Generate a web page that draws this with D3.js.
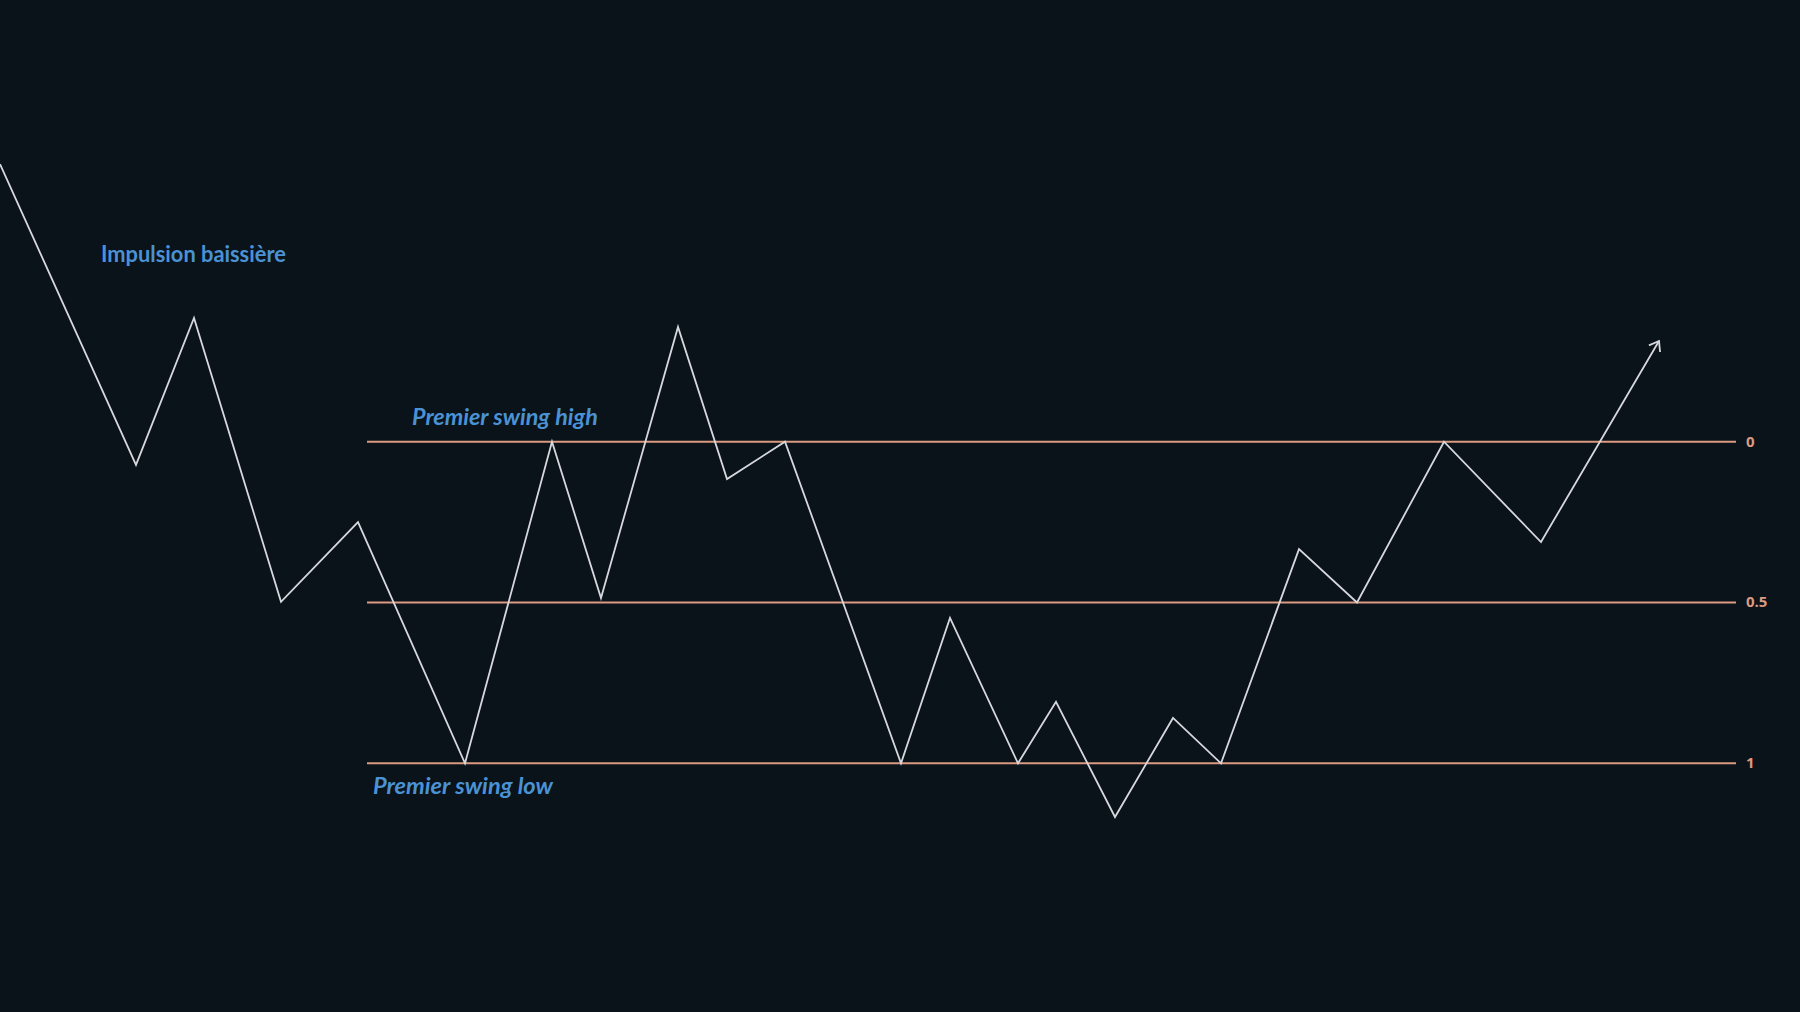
<!DOCTYPE html>
<html>
<head>
<meta charset="utf-8">
<script src="https://cdn.jsdelivr.net/npm/d3@7"></script>
<style>
  html, body { margin: 0; padding: 0; background: #0a121a; overflow: hidden; }
  svg { display: block; }
</style>
</head>
<body>
<svg id="chart" width="1800" height="1012"></svg>
<script>
// ---- Data ----
// Zigzag price path: bar position and price (swing low = 0, swing high = 100)
const bars   = [0, 136, 194, 281, 358, 465, 552, 601, 678, 727, 785, 901, 950, 1018, 1056, 1115, 1173, 1221, 1299, 1357, 1444, 1541, 1659];
const prices = [186.3, 92.8, 138.5, 50.2, 75.0, 0, 100, 51.4, 135.7, 88.4, 100, 0, 45.2, 0, 19.1, -16.7, 14.1, 0, 66.6, 50.0, 100, 68.8, 131.3];

// Fibonacci levels
const fibLevels = [0, 0.5, 1];
const fibLabels = ["0", "0.5", "1"];
const swingHigh = 100;
const swingLow = 0;
const fibStartBar = 367;
const fibEndBar = 1736;

// Annotations
const annotations = [
  { text: "Impulsion baissière", bar: 101, price: 156.0, italic: false, width: 185 },
  { text: "Premier swing high", bar: 412, price: 105.2, italic: true, width: 186 },
  { text: "Premier swing low", bar: 373, price: -9.7, italic: true, width: 180 }
];

// ---- Drawing ----
const svg = d3.select("#chart");
const W = 1800, H = 1012;

svg.append("rect").attr("width", W).attr("height", H).attr("fill", "#0a121a");

const x = d3.scaleLinear().domain([0, 1800]).range([0, 1800]);
const y = d3.scaleLinear().domain([swingLow, swingHigh]).range([763.3, 441.7]);

const fibColor = "#dc9a80";
const textBlue = "#4a92d4";

// Fib lines
const fibG = svg.append("g");
fibLevels.forEach((lv, i) => {
  const price = swingHigh - lv * (swingHigh - swingLow);
  fibG.append("line")
    .attr("x1", x(fibStartBar)).attr("x2", x(fibEndBar))
    .attr("y1", y(price)).attr("y2", y(price))
    .attr("stroke", fibColor).attr("stroke-width", 2);
  fibG.append("text")
    .attr("x", x(fibEndBar) + 10)
    .attr("y", y(price))
    .attr("dy", "0.33em")
    .attr("fill", fibColor)
    .attr("font-family", "'Open Sans', 'DejaVu Sans', sans-serif")
    .attr("font-weight", "bold")
    .attr("font-size", 15)
    .text(fibLabels[i]);
});

// Zigzag path
const pts = bars.map((b, i) => [b, prices[i]]);
const line = d3.line().x(d => x(d[0])).y(d => y(d[1]));
svg.append("path")
  .datum(pts)
  .attr("d", line)
  .attr("fill", "none")
  .attr("stroke", "#d6d8de")
  .attr("stroke-width", 1.8)
  .attr("stroke-linejoin", "miter");

// Arrow head at end
const p1 = pts[pts.length - 2], p2 = pts[pts.length - 1];
const ex = x(p2[0]), ey = y(p2[1]);
const ang = Math.atan2(ey - y(p1[1]), ex - x(p1[0]));
const L = 11, spread = Math.PI / 5;
const ah = [
  [ex - L * Math.cos(ang - spread), ey - L * Math.sin(ang - spread)],
  [ex, ey],
  [ex - L * Math.cos(ang + spread), ey - L * Math.sin(ang + spread)]
];
svg.append("path")
  .attr("d", d3.line()(ah))
  .attr("fill", "none")
  .attr("stroke", "#d6d8de")
  .attr("stroke-width", 1.8)
  .attr("stroke-linejoin", "miter");

// Annotation texts
annotations.forEach(a => {
  const t = svg.append("text")
    .attr("x", x(a.bar))
    .attr("y", y(a.price))
    .attr("fill", textBlue)
    .attr("font-family", "Lato, 'Open Sans', sans-serif")
    .attr("font-weight", "bold")
    .attr("font-style", a.italic ? "italic" : "normal")
    .attr("font-size", 20)
    .text(a.text);
  const w = t.node().getComputedTextLength();
  t.attr("font-size", 20 * a.width / w);
});
</script>
</body>
</html>
